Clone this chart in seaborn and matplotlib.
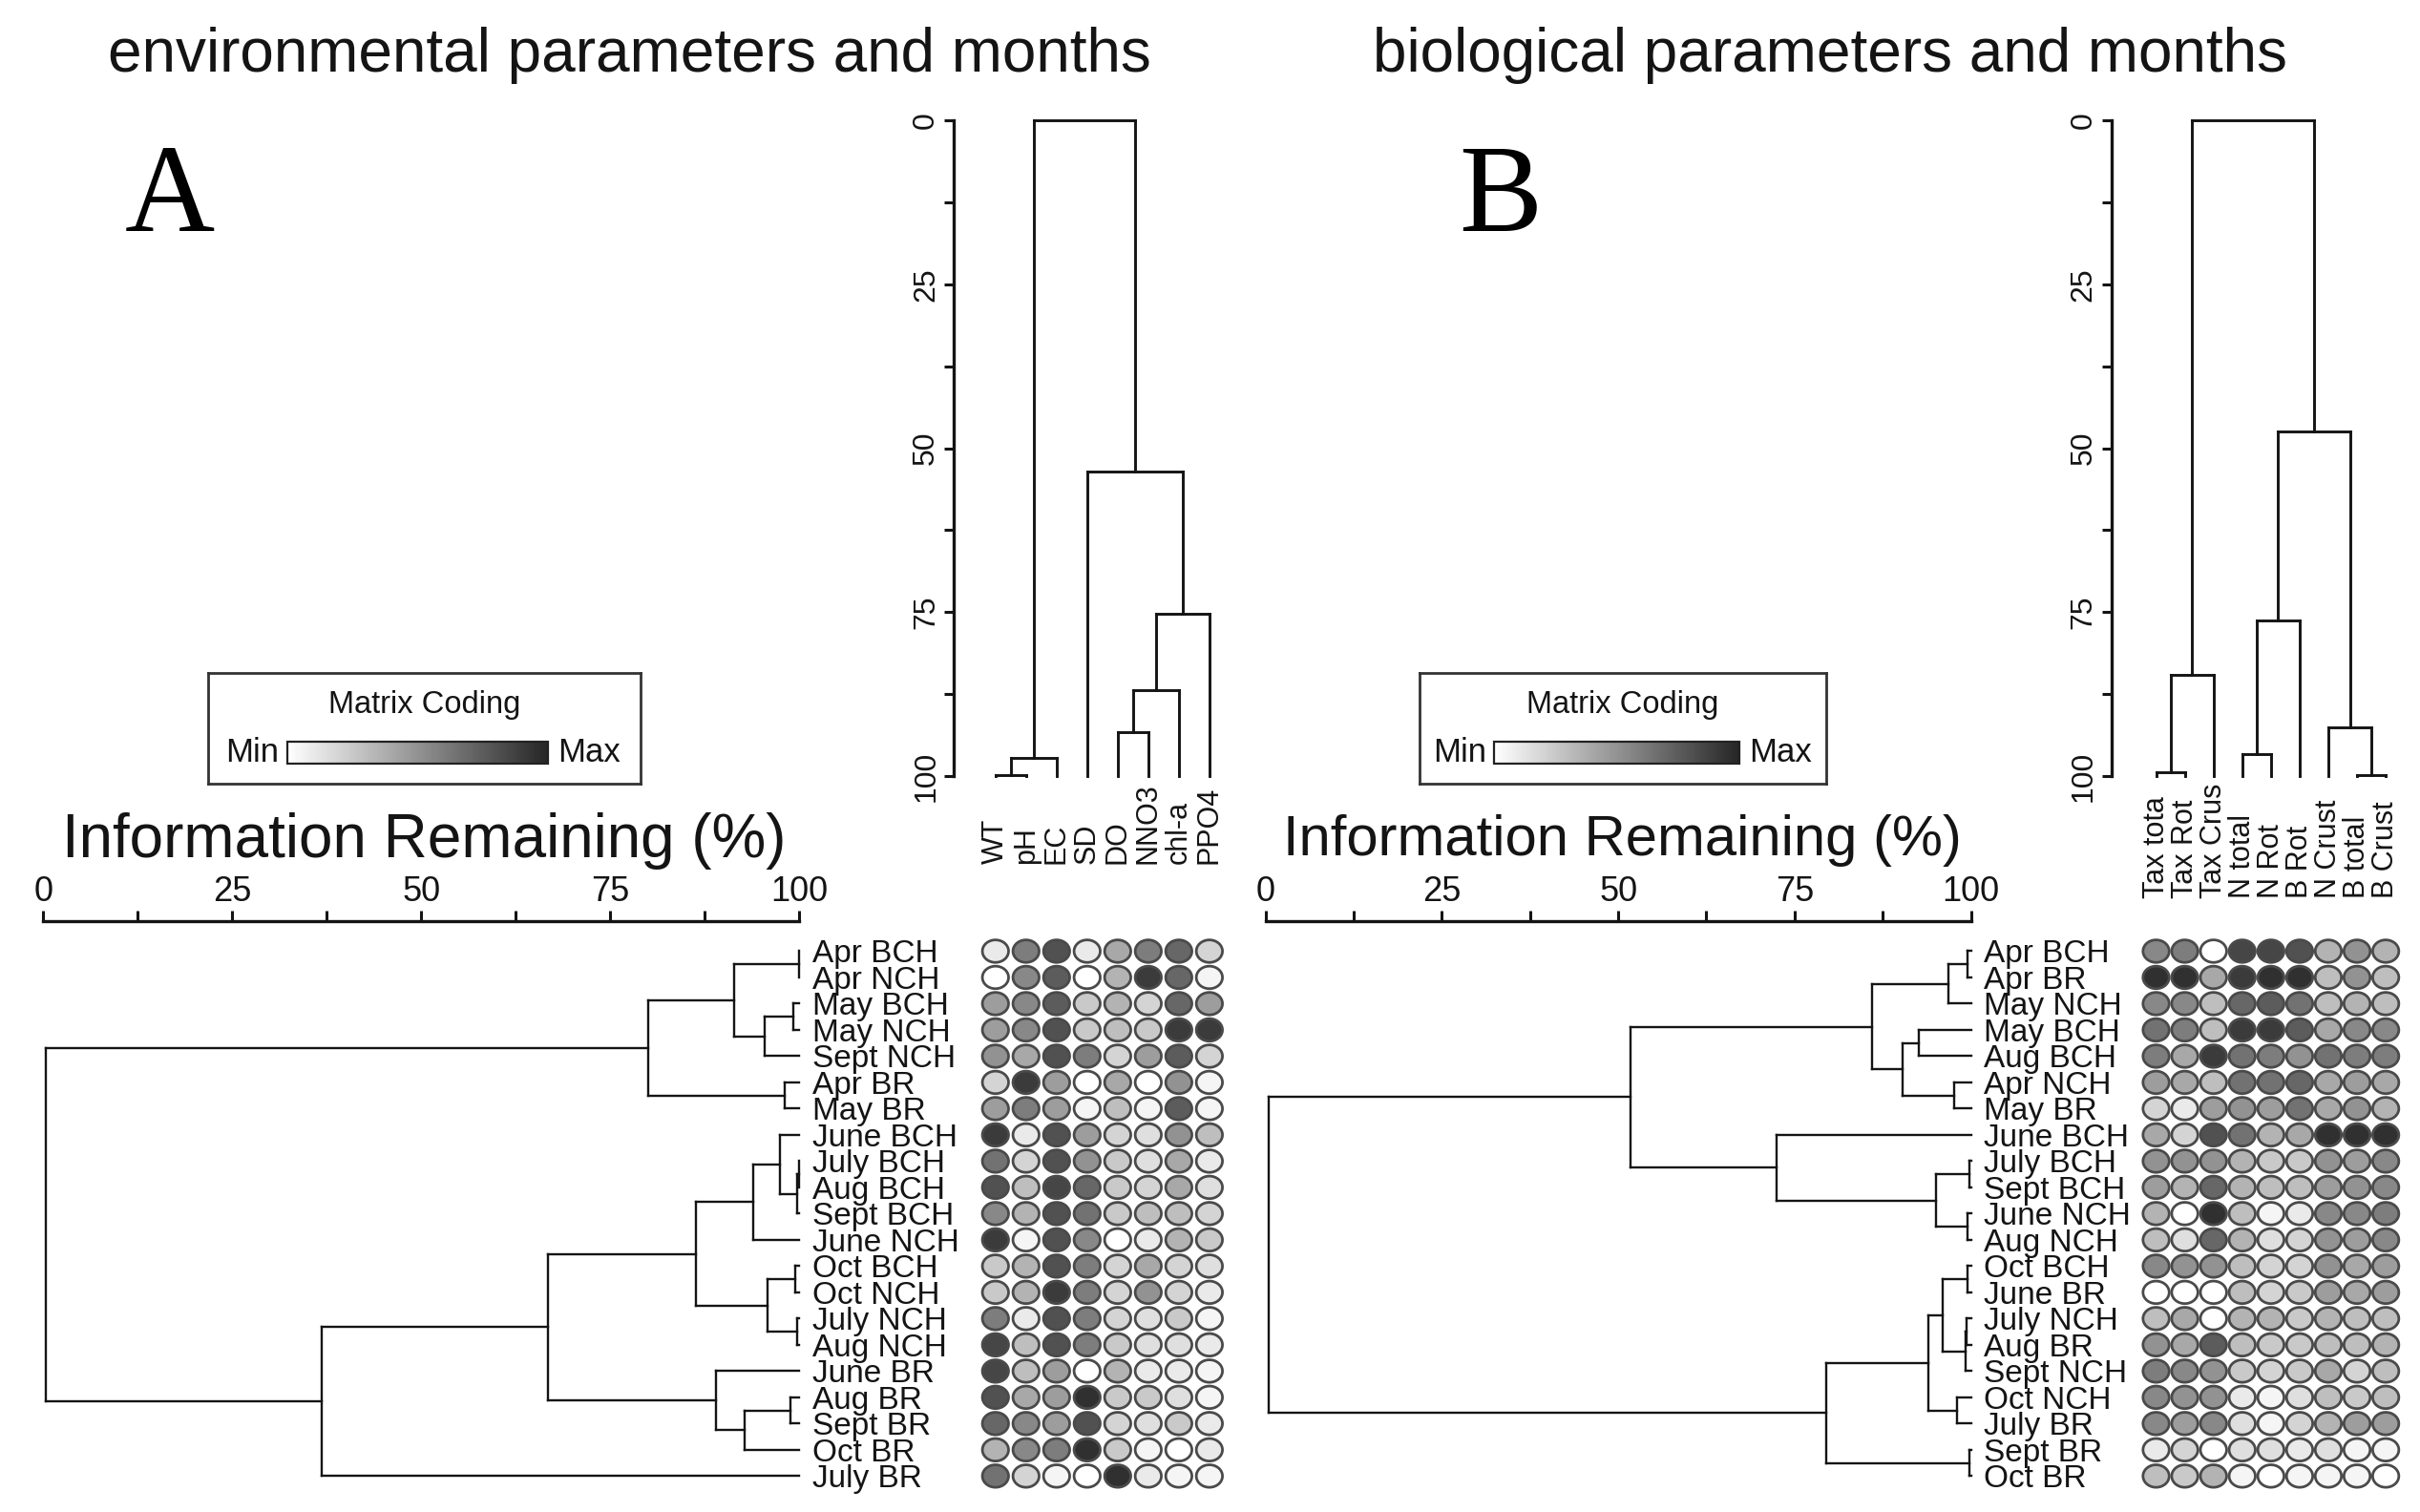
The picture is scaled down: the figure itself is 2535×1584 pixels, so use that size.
import numpy as np
import pandas as pd
import matplotlib
matplotlib.use("Agg")
import matplotlib.pyplot as plt
import seaborn as sns
from matplotlib.path import Path
from matplotlib.colors import LinearSegmentedColormap
import matplotlib.colorbar as mcolorbar

# ---------------- data ----------------
env_vars = ["WT", "pH", "EC", "SD", "DO", "NNO3", "chl-a", "PPO4"]
env_rows = ["Apr BCH", "Apr NCH", "May BCH", "May NCH", "Sept NCH", "Apr BR", "May BR",
            "June BCH", "July BCH", "Aug BCH", "Sept BCH", "June NCH", "Oct BCH", "Oct NCH",
            "July NCH", "Aug NCH", "June BR", "Aug BR", "Sept BR", "Oct BR", "July BR"]
# relative coding 0 = min (white) .. 1 = max (dark)
env_matrix = [
    [0.10, 0.60, 0.80, 0.10, 0.40, 0.60, 0.70, 0.20],
    [0.00, 0.55, 0.75, 0.00, 0.35, 0.90, 0.70, 0.05],
    [0.45, 0.55, 0.75, 0.25, 0.35, 0.20, 0.70, 0.45],
    [0.45, 0.55, 0.80, 0.25, 0.30, 0.25, 0.90, 0.90],
    [0.50, 0.40, 0.80, 0.60, 0.20, 0.45, 0.75, 0.20],
    [0.20, 0.90, 0.45, 0.00, 0.40, 0.00, 0.50, 0.05],
    [0.45, 0.60, 0.45, 0.05, 0.30, 0.05, 0.75, 0.05],
    [0.90, 0.10, 0.80, 0.45, 0.20, 0.15, 0.50, 0.30],
    [0.65, 0.20, 0.80, 0.50, 0.25, 0.15, 0.40, 0.10],
    [0.80, 0.30, 0.85, 0.70, 0.25, 0.20, 0.40, 0.15],
    [0.55, 0.35, 0.80, 0.65, 0.25, 0.30, 0.30, 0.20],
    [0.90, 0.05, 0.80, 0.55, 0.00, 0.10, 0.35, 0.25],
    [0.25, 0.35, 0.80, 0.60, 0.20, 0.40, 0.20, 0.15],
    [0.25, 0.35, 0.90, 0.60, 0.20, 0.50, 0.20, 0.10],
    [0.60, 0.10, 0.80, 0.60, 0.20, 0.15, 0.25, 0.05],
    [0.85, 0.30, 0.80, 0.60, 0.25, 0.15, 0.15, 0.10],
    [0.85, 0.30, 0.45, 0.00, 0.35, 0.10, 0.10, 0.05],
    [0.80, 0.40, 0.45, 0.95, 0.25, 0.25, 0.15, 0.05],
    [0.70, 0.55, 0.45, 0.80, 0.20, 0.15, 0.25, 0.10],
    [0.35, 0.55, 0.60, 0.95, 0.25, 0.05, 0.00, 0.10],
    [0.65, 0.20, 0.05, 0.00, 0.95, 0.10, 0.05, 0.05],
]
# merges: (child a, child b, information remaining %); leaves are 0..n-1, merges n, n+1, ...
env_col_merges = [(0, 1, 99.8), (8, 2, 97.3), (4, 5, 93.3), (10, 6, 86.9),
                  (11, 7, 75.2), (3, 12, 53.5), (9, 13, 0.0)]
env_row_merges = [(0, 1, 99.9), (2, 3, 99.2), (22, 4, 95.4), (21, 23, 91.3), (5, 6, 98.1),
                  (24, 25, 80.0), (8, 9, 99.9), (27, 10, 99.7), (7, 28, 97.4), (29, 11, 93.9),
                  (12, 13, 99.4), (14, 15, 99.7), (31, 32, 95.8), (30, 33, 86.3), (17, 18, 98.8),
                  (35, 19, 92.8), (16, 36, 88.9), (34, 37, 66.8), (38, 20, 36.8), (26, 39, 0.4)]

bio_vars = ["Tax tota", "Tax Rot", "Tax Crus", "N total", "N Rot", "B Rot",
            "N Crust", "B total", "B Crust"]
bio_rows = ["Apr BCH", "Apr BR", "May NCH", "May BCH", "Aug BCH", "Apr NCH", "May BR",
            "June BCH", "July BCH", "Sept BCH", "June NCH", "Aug NCH", "Oct BCH", "June BR",
            "July NCH", "Aug BR", "Sept NCH", "Oct NCH", "July BR", "Sept BR", "Oct BR"]
bio_matrix = [
    [0.55, 0.60, 0.00, 0.85, 0.85, 0.80, 0.35, 0.50, 0.35],
    [0.95, 0.95, 0.40, 0.90, 0.95, 0.95, 0.30, 0.50, 0.30],
    [0.55, 0.55, 0.30, 0.70, 0.75, 0.65, 0.30, 0.35, 0.30],
    [0.65, 0.60, 0.30, 0.90, 0.90, 0.75, 0.40, 0.55, 0.55],
    [0.60, 0.40, 0.90, 0.65, 0.60, 0.50, 0.65, 0.60, 0.60],
    [0.45, 0.40, 0.30, 0.65, 0.65, 0.70, 0.40, 0.45, 0.40],
    [0.20, 0.10, 0.45, 0.50, 0.45, 0.65, 0.40, 0.50, 0.35],
    [0.40, 0.20, 0.80, 0.65, 0.35, 0.40, 0.95, 0.95, 0.95],
    [0.50, 0.50, 0.50, 0.35, 0.25, 0.25, 0.50, 0.45, 0.55],
    [0.45, 0.35, 0.70, 0.35, 0.30, 0.30, 0.45, 0.50, 0.55],
    [0.35, 0.00, 0.95, 0.30, 0.05, 0.10, 0.55, 0.55, 0.60],
    [0.30, 0.15, 0.70, 0.35, 0.15, 0.20, 0.50, 0.45, 0.55],
    [0.55, 0.50, 0.50, 0.30, 0.20, 0.20, 0.50, 0.40, 0.45],
    [0.00, 0.00, 0.00, 0.30, 0.20, 0.25, 0.45, 0.40, 0.45],
    [0.30, 0.40, 0.00, 0.35, 0.35, 0.25, 0.35, 0.30, 0.30],
    [0.50, 0.40, 0.75, 0.30, 0.25, 0.25, 0.30, 0.30, 0.35],
    [0.60, 0.55, 0.50, 0.25, 0.20, 0.25, 0.40, 0.20, 0.30],
    [0.55, 0.50, 0.50, 0.10, 0.05, 0.15, 0.30, 0.25, 0.30],
    [0.55, 0.45, 0.55, 0.15, 0.05, 0.20, 0.35, 0.45, 0.45],
    [0.10, 0.20, 0.00, 0.15, 0.15, 0.10, 0.15, 0.05, 0.05],
    [0.30, 0.25, 0.35, 0.05, 0.00, 0.05, 0.05, 0.05, 0.00],
]
bio_col_merges = [(0, 1, 99.4), (9, 2, 84.6), (3, 4, 96.6), (11, 5, 76.2), (7, 8, 99.9),
                  (6, 13, 92.6), (12, 14, 47.4), (10, 15, 0.0)]
bio_row_merges = [(0, 1, 99.5), (21, 2, 96.8), (3, 4, 92.6), (5, 6, 97.6), (23, 24, 90.3),
                  (22, 25, 86.0), (8, 9, 99.8), (10, 11, 99.5), (27, 28, 95.0), (7, 29, 72.4),
                  (26, 30, 51.7), (12, 13, 99.5), (14, 15, 99.4), (33, 16, 99.2), (32, 34, 96.0),
                  (17, 18, 98.1), (35, 36, 94.0), (19, 20, 99.8), (37, 38, 79.5), (31, 39, 0.4)]

info_ticks = [0, 25, 50, 75, 100]
info_minor = [12.5, 37.5, 62.5, 87.5]

# ---------------- style ----------------
sns.set_style("white")
plt.rcParams["font.family"] = ["Liberation Sans", "DejaVu Sans"]
INK = "#141414"
cmap = LinearSegmentedColormap.from_list("coding", ["#ffffff", "#262626"])

W, H = 1568.0, 980.0


def rect(x0, y0, x1, y1):
    return [x0 / W, 1 - y1 / H, (x1 - x0) / W, (y1 - y0) / H]


def dendro_segments(merges, n):
    pos = [float(i) for i in range(n)]
    hgt = [100.0] * n
    segs = []
    for a, b, h in merges:
        segs.append(((hgt[a], pos[a]), (h, pos[a])))
        segs.append(((hgt[b], pos[b]), (h, pos[b])))
        segs.append(((h, pos[a]), (h, pos[b])))
        pos.append((pos[a] + pos[b]) / 2)
        hgt.append(h)
    return segs


ellipse = np.column_stack([np.cos(np.linspace(0, 2 * np.pi, 64)),
                           0.86 * np.sin(np.linspace(0, 2 * np.pi, 64))])
ellipse_marker = Path(ellipse, closed=True)


def draw_panel(fig, cfg, col_names, col_merges, row_names, row_merges, matrix):
    ncol, nrow = len(col_names), len(row_names)
    lx0, dx = cfg["leaf_x0"], cfg["leaf_dx"]
    cx, cr = cfg["col_axis_x"], cfg["dots_right"]
    xlim = ((cx - lx0) / dx, (cr - lx0) / dx)
    ry0, rdy = 616.5, 17.01
    top, bot = 597, 968
    ylim = ((bot - ry0) / rdy, (top - ry0) / rdy)

    # column dendrogram
    axc = fig.add_axes(rect(cx, 78, cr, 503))
    for (h0, p0), (h1, p1) in dendro_segments(col_merges, ncol):
        axc.plot([p0, p1], [h0, h1], color=INK, lw=2.1, clip_on=False,
                 solid_capstyle="projecting")
    axc.set_xlim(*xlim)
    axc.set_ylim(100, 0)
    for s in ["top", "right", "bottom"]:
        axc.spines[s].set_visible(False)
    axc.spines["left"].set_linewidth(2.4)
    axc.spines["left"].set_color(INK)
    axc.set_yticks(info_ticks, [str(t) for t in info_ticks], rotation=90, va="center")
    axc.set_yticks(info_minor, minor=True)
    axc.tick_params(axis="y", which="both", direction="out", length=7, width=2.2,
                    color=INK, labelsize=23, labelcolor=INK, pad=3, left=True)
    axc.set_xticks(range(ncol), col_names, rotation=90, va="bottom", ha="center")
    axc.tick_params(axis="x", length=0, labelsize=22, labelcolor=INK, pad=cfg["label_pad"])

    # dot matrix
    axd = fig.add_axes(rect(cx, top, cr, bot))
    df = pd.DataFrame(matrix, columns=range(ncol))
    df["row"] = range(nrow)
    long = df.melt(id_vars="row", var_name="col", value_name="value")
    long["col"] = long["col"].astype(float)
    sns.scatterplot(data=long, x="col", y="row", hue="value", palette=cmap,
                    hue_norm=(0, 1), marker=ellipse_marker, s=390,
                    edgecolor="#4a4a4a", linewidth=2.0, legend=False, ax=axd)
    axd.set_xlim(*xlim)
    axd.set_ylim(*ylim)
    axd.set_axis_off()

    # row dendrogram
    axr = fig.add_axes(rect(cfg["row_x0"], top, cfg["row_x1"], bot))
    for (h0, p0), (h1, p1) in dendro_segments(row_merges, nrow):
        axr.plot([h0, h1], [p0, p1], color=INK, lw=1.7, clip_on=False,
                 solid_capstyle="projecting")
    axr.set_xlim(0, 100)
    axr.set_ylim(*ylim)
    for s in ["right", "bottom", "left"]:
        axr.spines[s].set_visible(False)
    axr.spines["top"].set_linewidth(2.4)
    axr.spines["top"].set_color(INK)
    axr.xaxis.tick_top()
    axr.set_xticks(info_ticks, [str(t) for t in info_ticks])
    axr.set_xticks(info_minor, minor=True)
    axr.tick_params(axis="x", which="both", direction="out", length=8, width=2.2,
                    color=INK, labelsize=26, labelcolor=INK, pad=1)
    axr.yaxis.tick_right()
    axr.set_yticks(range(nrow), row_names)
    axr.tick_params(axis="y", length=0, labelsize=24, labelcolor=INK, pad=10)
    fig.text(cfg["info_x"] / W, 1 - 545 / H, "Information Remaining (%)",
             ha="center", va="center", fontsize=cfg["info_size"], color=INK)

    # matrix coding legend
    lx0_, ly0_, lx1_, ly1_ = cfg["legend"]
    axl = fig.add_axes(rect(lx0_, ly0_, lx1_, ly1_))
    axl.set_xticks([])
    axl.set_yticks([])
    for s in axl.spines.values():
        s.set_linewidth(2.0)
        s.set_color("#333333")
    axl.set_facecolor("white")
    axl.text(0.5, 0.71, "Matrix Coding", transform=axl.transAxes, ha="center",
             va="center", fontsize=23.5, color=INK)
    gx0, gx1 = cfg["grad"]
    axl.text((gx0 - 5 - lx0_) / (lx1_ - lx0_), 0.28, "Min", transform=axl.transAxes,
             ha="right", va="center", fontsize=25, color=INK)
    axl.text((gx1 + 6 - lx0_) / (lx1_ - lx0_), 0.28, "Max", transform=axl.transAxes,
             ha="left", va="center", fontsize=25, color=INK)
    cax = fig.add_axes(rect(gx0, 481, gx1, 495))
    cb = mcolorbar.ColorbarBase(cax, cmap=cmap, orientation="horizontal")
    cb.set_ticks([])
    cb.outline.set_linewidth(1.6)
    cb.outline.set_edgecolor("#222222")

    fig.text(cfg["title_x"] / W, 1 - 36 / H, cfg["title"], ha="center", va="center",
             fontsize=46, color=INK)
    fig.text(cfg["letter_x"] / W, 1 - 130 / H, cfg["letter"], ha="center", va="center",
             fontsize=94, color="black", family=["Liberation Serif", "DejaVu Serif"])


fig = plt.figure(figsize=(25.35, 15.84), dpi=100)

cfg_a = dict(leaf_x0=645, leaf_dx=19.8, col_axis_x=618, dots_right=800,
             row_x0=28, row_x1=518, label_pad=66, legend=(135, 436, 415, 508),
             grad=(186, 355), title="environmental parameters and months", title_x=408,
             letter="A", letter_x=110, info_x=275, info_size=46)
cfg_b = dict(leaf_x0=1397, leaf_dx=18.6, col_axis_x=1368, dots_right=1562,
             row_x0=820, row_x1=1277, label_pad=92, legend=(920, 436, 1183, 508),
             grad=(968, 1127), title="biological parameters and months", title_x=1186,
             letter="B", letter_x=972, info_x=1051, info_size=43)

draw_panel(fig, cfg_a, env_vars, env_col_merges, env_rows, env_row_merges, env_matrix)
draw_panel(fig, cfg_b, bio_vars, bio_col_merges, bio_rows, bio_row_merges, bio_matrix)

fig.savefig("out.png", dpi=100, facecolor="white")
